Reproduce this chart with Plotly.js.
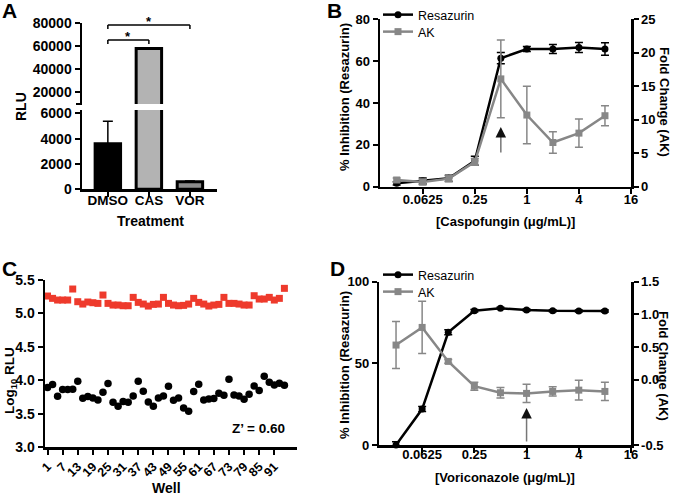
<!DOCTYPE html>
<html>
<head>
<meta charset="utf-8">
<script src="https://cdn.plot.ly/plotly-3.0.1.min.js"></script>
<style>
  html, body { margin: 0; padding: 0; background: #fff; }
  #chart { width: 675px; height: 495px; }
</style>
</head>
<body>
<div id="chart"></div>
<script>
'use strict';

// panel A - luminescence per treatment
const catsA = ['DMSO', 'CAS', 'VOR'];
const rluA = [3600, 58000, 600];
const rluErrA = [1780, 500, 60];

// panel B - caspofungin titration
const concB = [0.03125, 0.0625, 0.125, 0.25, 0.5, 1, 2, 4, 8];
const resB = [1.6, 2.7, 4.0, 12.4, 61.4, 65.8, 65.8, 66.5, 65.8];
const resErrB = [0.8, 1.4, 1.5, 2.2, 2.7, 1.2, 2.2, 2.4, 3.0];
const akB = [1.0, 0.7, 1.2, 3.7, 16.1, 10.7, 6.6, 8.0, 10.6];
const akErrB = [0.3, 0.4, 0.4, 0.5, 5.8, 4.3, 1.6, 2.1, 1.5];
const arrowB = 0.5;

// panel C - plate uniformity
const wellsC = [1, 3, 5, 7, 9, 11, 13, 15, 17, 19, 21, 23, 25, 27, 29, 31,
    33, 35, 37, 39, 41, 43, 45, 47, 49, 51, 53, 55, 57, 59, 61, 63,
    65, 67, 69, 71, 73, 75, 77, 79, 81, 83, 85, 87, 89, 91, 93, 95];
const highC = [5.26, 5.225, 5.20, 5.20, 5.20, 5.365, 5.175, 5.14, 5.17, 5.16,
    5.15, 5.275, 5.15, 5.125, 5.125, 5.115, 5.115, 5.24, 5.165, 5.14,
    5.11, 5.135, 5.14, 5.24, 5.15, 5.125, 5.115, 5.12, 5.14, 5.225,
    5.165, 5.14, 5.11, 5.125, 5.135, 5.24, 5.15, 5.15, 5.14, 5.125,
    5.125, 5.265, 5.215, 5.215, 5.24, 5.20, 5.225, 5.375];
const lowC = [3.89, 3.935, 3.76, 3.86, 3.86, 3.865, 3.985, 3.73, 3.755, 3.735,
    3.705, 3.82, 3.95, 3.67, 3.61, 3.68, 3.67, 3.765, 3.985, 3.835,
    3.675, 3.61, 3.735, 3.765, 3.91, 3.70, 3.735, 3.585, 3.535, 3.83,
    3.94, 3.705, 3.72, 3.725, 3.805, 3.775, 4.015, 3.78, 3.765, 3.715,
    3.79, 3.915, 3.845, 4.06, 3.97, 3.93, 3.955, 3.925];
const wellTicks = [1, 7, 13, 19, 25, 31, 37, 43, 49, 55, 61, 67, 73, 79, 85, 91];

// panel D - voriconazole titration
const concD = [0.03125, 0.0625, 0.125, 0.25, 0.5, 1, 2, 4, 8];
const resD = [0, 22, 69, 82.2, 83.7, 82.7, 82.2, 82, 82];
const resErrD = [2, 1.5, 1.5, 0.8, 0.6, 0.6, 0.6, 0.6, 0.6];
const akD = [0.53, 0.80, 0.28, -0.10, -0.20, -0.21, -0.18, -0.16, -0.18];
const akErrD = [0.36, 0.40, 0.03, 0.06, 0.08, 0.14, 0.07, 0.15, 0.14];
const arrowD = 1;

const concTicks = [0.0625, 0.25, 1, 4, 16];
const concText = ['0.0625', '0.25', '1', '4', '16'];

// pixel -> paper helpers (margins are zero)
const W = 675, H = 495;
const X = px => px / W;
const Y = py => 1 - py / H;

const FONT = 'Liberation Sans, Arial, Helvetica, sans-serif';
const bold = size => ({ family: FONT, size: size, color: '#000', weight: 700 });

const axisStyle = {
    showline: true,
    linewidth: 2.5,
    linecolor: '#000',
    ticks: 'outside',
    ticklen: 5,
    tickwidth: 2,
    tickcolor: '#000',
    showgrid: false,
    zeroline: false,
    tickfont: bold(13),
};

const GREY = 'rgb(135,135,135)';

// one legend per entry so the rows sit as tight as in the original
function doseTraces(x, res, resErr, ak, akErr, xa, yl, yr, legends) {
    return [
        {
            x: x, y: res, xaxis: xa, yaxis: yl, name: 'Resazurin', legend: legends[0],
            type: 'scatter', mode: 'lines+markers', cliponaxis: false,
            line: { color: '#000', width: 2.5 },
            marker: { symbol: 'circle', size: 7, color: '#000' },
            error_y: { type: 'data', array: resErr, color: '#000', thickness: 1.5, width: 4 },
        },
        {
            x: x, y: ak, xaxis: xa, yaxis: yr, name: 'AK', legend: legends[1],
            type: 'scatter', mode: 'lines+markers', cliponaxis: false,
            line: { color: GREY, width: 2.5 },
            marker: { symbol: 'square', size: 7, color: GREY },
            error_y: { type: 'data', array: akErr, color: GREY, thickness: 1.5, width: 4 },
        },
    ];
}

const barCommon = {
    type: 'bar', x: catsA, y: rluA, width: 0.62, showlegend: false,
    marker: { color: ['#000', '#b3b3b3', '#8c8c8c'], line: { color: '#000', width: 3 } },
    error_y: {
        type: 'data', symmetric: false, array: rluErrA, arrayminus: [0, 0, 0],
        color: '#000', thickness: 1.5, width: 5,
    },
};

const data = [
    Object.assign({ xaxis: 'x', yaxis: 'y' }, barCommon),
    Object.assign({ xaxis: 'x', yaxis: 'y2' }, barCommon),
    ...doseTraces(concB, resB, resErrB, akB, akErrB, 'x2', 'y3', 'y4', ['legend', 'legend3']),
    {
        x: wellsC, y: highC, xaxis: 'x3', yaxis: 'y5', type: 'scatter', mode: 'markers',
        showlegend: false, cliponaxis: false,
        marker: { symbol: 'square', size: 7, color: 'rgb(238,58,44)' },
    },
    {
        x: wellsC, y: lowC, xaxis: 'x3', yaxis: 'y5', type: 'scatter', mode: 'markers',
        showlegend: false, cliponaxis: false,
        marker: { symbol: 'circle', size: 7.5, color: '#000' },
    },
    ...doseTraces(concD, resD, resErrD, akD, akErrD, 'x4', 'y6', 'y7', ['legend2', 'legend4']),
];

const logRange = [-1.698, 1.204];

const legendAt = top => ({
    x: X(378), y: Y(top), xanchor: 'left', yanchor: 'top',
    bgcolor: 'rgba(0,0,0,0)', font: { family: FONT, size: 12.5, color: '#000' },
    tracegroupgap: 0, itemwidth: 30,
});

const layout = {
    width: W, height: H,
    margin: { l: 0, r: 0, t: 0, b: 0 },
    paper_bgcolor: '#fff', plot_bgcolor: 'rgba(0,0,0,0)',
    font: { family: FONT, color: '#000' },
    showlegend: true,

    // A
    xaxis: Object.assign({}, axisStyle, {
        domain: [X(82), X(217)], anchor: 'y', type: 'category',
        range: [-0.63, 2.66], tickfont: bold(13.5), ticklabelstandoff: -8,
    }),
    yaxis: Object.assign({}, axisStyle, {
        domain: [Y(189.3), Y(110)], anchor: 'x', range: [0, 6260],
        tickvals: [0, 2000, 4000, 6000], tickformat: 'd', tickfont: bold(14),
    }),
    yaxis2: Object.assign({}, axisStyle, {
        domain: [Y(104), Y(23.3)], anchor: 'x', range: [9826, 80000],
        tickvals: [20000, 40000, 60000, 80000], tickformat: 'd', tickfont: bold(14),
    }),

    // B
    xaxis2: Object.assign({}, axisStyle, {
        domain: [X(380), X(631)], anchor: 'y3', type: 'log', range: logRange,
        tickvals: concTicks, ticktext: concText, ticklabelstandoff: -6,
    }),
    yaxis3: Object.assign({}, axisStyle, {
        domain: [Y(186.7), Y(19.3)], anchor: 'x2', range: [0, 80], dtick: 20,
    }),
    yaxis4: Object.assign({}, axisStyle, {
        overlaying: 'y3', side: 'right', anchor: 'x2', range: [0, 25], dtick: 5,
    }),

    // C
    xaxis3: Object.assign({}, axisStyle, {
        domain: [X(45), X(297)], anchor: 'y5', range: [0, 100],
        tickvals: wellTicks, tickangle: -45, tickfont: bold(12.5),
    }),
    yaxis5: Object.assign({}, axisStyle, {
        domain: [Y(447), Y(280)], anchor: 'x3', range: [3, 5.5], dtick: 0.5,
        tickformat: '.1f', tickfont: bold(14),
    }),

    // D
    xaxis4: Object.assign({}, axisStyle, {
        domain: [X(379.3), X(631)], anchor: 'y6', type: 'log', range: logRange,
        tickvals: concTicks, ticktext: concText, ticklabelstandoff: -9,
    }),
    yaxis6: Object.assign({}, axisStyle, {
        domain: [Y(445), Y(281.7)], anchor: 'x4', range: [0, 100], dtick: 50,
    }),
    yaxis7: Object.assign({}, axisStyle, {
        overlaying: 'y6', side: 'right', anchor: 'x4', range: [-1, 1.5],
        tickvals: [-1, 0, 0.5, 1, 1.5], ticktext: ['-0.5', '0.0', '0.5', '1.0', '1.5'],
    }),

    legend: legendAt(0),
    legend3: legendAt(17),
    legend2: legendAt(260),
    legend4: legendAt(277),

    shapes: [
        // axis break mark on panel A
        { type: 'line', xref: 'paper', yref: 'paper', x0: X(76), x1: X(82), y0: Y(104), y1: Y(104),
          line: { color: '#000', width: 2 } },
        // significance brackets
        { type: 'line', xref: 'x', yref: 'paper', x0: 0, x1: 1, y0: Y(40), y1: Y(40), line: { color: '#000', width: 1.5 } },
        { type: 'line', xref: 'x', yref: 'paper', x0: 0, x1: 0, y0: Y(40), y1: Y(44), line: { color: '#000', width: 1.5 } },
        { type: 'line', xref: 'x', yref: 'paper', x0: 1, x1: 1, y0: Y(40), y1: Y(44), line: { color: '#000', width: 1.5 } },
        { type: 'line', xref: 'x', yref: 'paper', x0: 0, x1: 2, y0: Y(25), y1: Y(25), line: { color: '#000', width: 1.5 } },
        { type: 'line', xref: 'x', yref: 'paper', x0: 0, x1: 0, y0: Y(25), y1: Y(29), line: { color: '#000', width: 1.5 } },
        { type: 'line', xref: 'x', yref: 'paper', x0: 2, x1: 2, y0: Y(25), y1: Y(29), line: { color: '#000', width: 1.5 } },
    ],

    annotations: [
        // panel letters
        { text: 'A', x: X(9), y: Y(10), font: bold(21) },
        { text: 'B', x: X(334), y: Y(10), font: bold(21) },
        { text: 'C', x: X(9), y: Y(268), font: bold(21) },
        { text: 'D', x: X(337), y: Y(268), font: bold(21) },
        // stars
        { text: '*', x: X(128), y: Y(36), font: bold(13) },
        { text: '*', x: X(149), y: Y(21), font: bold(13) },
        // axis titles
        { text: 'RLU', x: X(21), y: Y(107), textangle: -90, font: bold(14) },
        { text: 'Treatment', x: X(150), y: Y(221), font: bold(14) },
        { text: '% Inhibition (Resazurin)', x: X(344), y: Y(97), textangle: -90, font: bold(13) },
        { text: 'Fold Change (AK)', x: X(665), y: Y(102), textangle: 90, font: bold(13) },
        { text: '[Caspofungin (\u03bcg/mL)]', x: X(505), y: Y(221), font: bold(13) },
        { text: 'Log<sub>10</sub> RLU', x: X(10), y: Y(381), textangle: -90, font: bold(13.5) },
        { text: 'Well', x: X(166), y: Y(488), font: bold(14) },
        { text: 'Z\u2019 = 0.60', x: X(258), y: Y(428), font: bold(13.5) },
        { text: '% Inhibition (Resazurin)', x: X(344), y: Y(365), textangle: -90, font: bold(13) },
        { text: 'Fold Change (AK)', x: X(664), y: Y(366), textangle: 90, font: bold(13) },
        { text: '[Voriconazole (\u03bcg/mL)]', x: X(505), y: Y(477), font: bold(13) },
    ].map(a => Object.assign({ xref: 'paper', yref: 'paper', showarrow: false,
        xanchor: 'center', yanchor: 'middle' }, a)).concat([
        // arrows marking the selected concentration: grey shaft, black head
        { text: '', xref: 'x2', yref: 'paper', x: Math.log10(arrowB), y: Y(131),
          showarrow: true, ax: 0, ay: 23, arrowhead: 0, arrowwidth: 1.5, arrowcolor: '#777' },
        { text: '', xref: 'x2', yref: 'paper', x: Math.log10(arrowB), y: Y(127),
          showarrow: true, ax: 0, ay: 6, arrowhead: 2, arrowsize: 1.4, arrowwidth: 1.5, arrowcolor: '#111' },
        { text: '', xref: 'x4', yref: 'paper', x: Math.log10(arrowD), y: Y(412),
          showarrow: true, ax: 0, ay: 31, arrowhead: 0, arrowwidth: 1.5, arrowcolor: '#777' },
        { text: '', xref: 'x4', yref: 'paper', x: Math.log10(arrowD), y: Y(408),
          showarrow: true, ax: 0, ay: 6, arrowhead: 2, arrowsize: 1.4, arrowwidth: 1.5, arrowcolor: '#111' },
    ]),
};

Plotly.newPlot('chart', data, layout, { displayModeBar: false, staticPlot: true });
</script>
</body>
</html>
